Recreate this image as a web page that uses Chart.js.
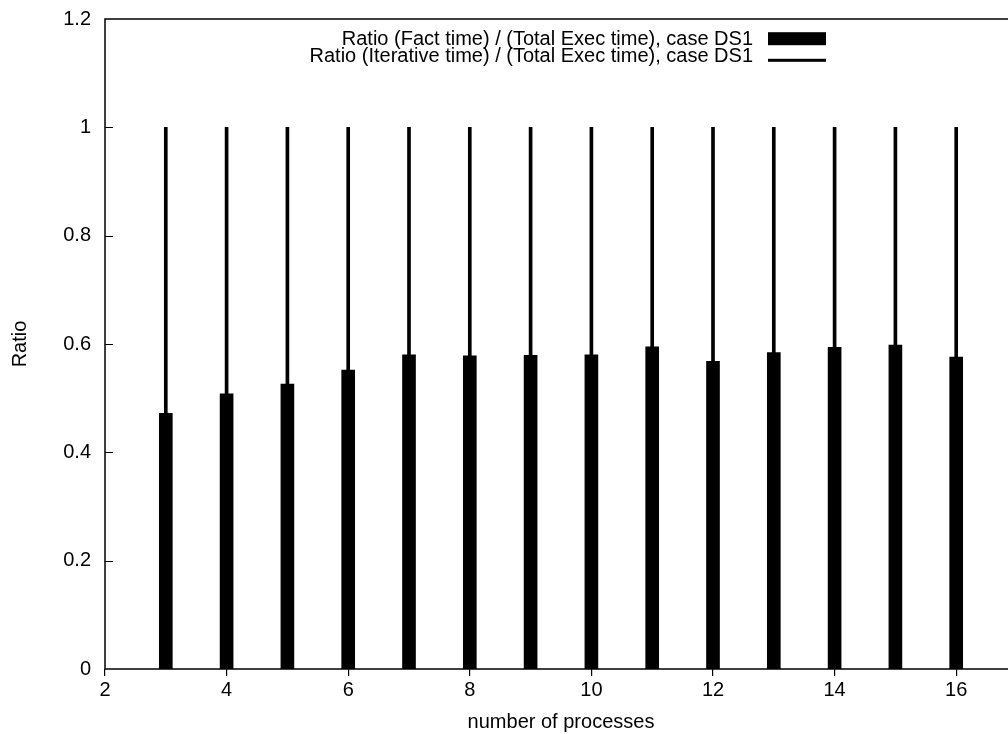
<!DOCTYPE html>
<html>
<head>
<meta charset="utf-8">
<title>Ratio vs number of processes</title>
<script src="https://cdn.jsdelivr.net/npm/chart.js@4.4.1/dist/chart.umd.min.js"></script>
<style>
  html, body { margin: 0; padding: 0; overflow: hidden; background: #fff; }
  #wrap { width: 1040px; height: 734px; }
</style>
</head>
<body>
<div id="wrap"><canvas id="myChart" width="1040" height="734"></canvas></div>
<script>
// number of processes
var procs = [3, 4, 5, 6, 7, 8, 9, 10, 11, 12, 13, 14, 15, 16];
// (Fact time) / (Total Exec time)
var factRatio = [0.472, 0.508, 0.526, 0.552, 0.580, 0.578, 0.579, 0.580, 0.595, 0.568, 0.584, 0.594, 0.598, 0.576];
// (Iterative time) / (Total Exec time)
var iterRatio = [0.528, 0.492, 0.474, 0.448, 0.420, 0.422, 0.421, 0.420, 0.405, 0.432, 0.416, 0.406, 0.402, 0.424];

var xTicks = [2, 4, 6, 8, 10, 12, 14, 16];
var yTicks = [0, 0.2, 0.4, 0.6, 0.8, 1, 1.2];

var FONT = "'Liberation Sans', Arial, Helvetica, sans-serif";
Chart.defaults.font.family = FONT;
Chart.defaults.font.size = 20;
Chart.defaults.color = '#000';

function points(values) {
  var out = [];
  for (var i in procs) {
    out.push({ x: procs[i], y: values[i] });
  }
  return out;
}

// box around the plot plus inward ticks on the y axis
var framePlugin = {
  id: 'frame',
  afterDatasetsDraw: function(chart) {
    var ctx = chart.ctx;
    var a = chart.chartArea;
    var y = chart.scales.y;
    ctx.save();
    ctx.strokeStyle = '#000';
    ctx.lineWidth = 1.5;
    ctx.strokeRect(a.left, a.top, a.right - a.left, a.bottom - a.top);
    ctx.lineWidth = 1.2;
    ctx.beginPath();
    y.ticks.forEach(function(t) {
      if (t.value === 0 || t.value === 1.2) return;
      var py = Math.round(y.getPixelForValue(t.value)) + 0.5;
      ctx.moveTo(a.left, py);
      ctx.lineTo(a.left + 8, py);
    });
    ctx.stroke();
    ctx.restore();
  }
};

// key in the top of the plot: text on the left, sample on the right
var keyPlugin = {
  id: 'key',
  afterDraw: function(chart) {
    var ctx = chart.ctx;
    var rows = [{ base: 45, mid: 38.7 }, { base: 61.7, mid: 60.3 }];
    ctx.save();
    ctx.font = '20px ' + FONT;
    ctx.fillStyle = '#000';
    ctx.textAlign = 'right';
    ctx.textBaseline = 'alphabetic';
    chart.data.datasets.forEach(function(ds, i) {
      ctx.fillText(ds.label, 753, rows[i].base);
      var h = ds.barThickness;
      ctx.fillRect(768, rows[i].mid - h / 2, 58, h);
    });
    ctx.restore();
  }
};

var ctx = document.getElementById('myChart');

var barGraph = new Chart(ctx, {
  type: 'bar',
  data: {
    datasets: [
      {
        label: 'Ratio (Fact time) / (Total Exec time), case DS1',
        data: points(factRatio),
        backgroundColor: '#000',
        borderWidth: 0,
        barThickness: 13,
        stack: 'ds1'
      },
      {
        label: 'Ratio (Iterative time) / (Total Exec time), case DS1',
        data: points(iterRatio),
        backgroundColor: '#000',
        borderWidth: 0,
        barThickness: 3,
        stack: 'ds1'
      }
    ]
  },
  options: {
    responsive: false,
    animation: false,
    devicePixelRatio: 1,
    layout: { padding: { left: 0, top: 19, right: 23, bottom: 0 } },
    plugins: {
      legend: { display: false },
      tooltip: { enabled: false }
    },
    scales: {
      x: {
        type: 'linear',
        min: 2,
        max: 17,
        offset: false,
        stacked: true,
        afterBuildTicks: function(scale) {
          scale.ticks = xTicks.map(function(v) { return { value: v }; });
        },
        afterFit: function(scale) {
          scale.height = 65;
          scale.paddingLeft = 0;
          scale.paddingRight = 0;
        },
        ticks: {
          padding: 2,
          maxRotation: 0,
          autoSkip: false,
          callback: function(v) { return String(v); }
        },
        grid: {
          display: true,
          offset: false,
          drawOnChartArea: false,
          drawTicks: true,
          tickLength: 7,
          color: '#000',
          lineWidth: 1.2
        },
        border: { display: false },
        title: {
          display: true,
          text: 'number of processes',
          padding: { top: 0, bottom: 0 }
        }
      },
      y: {
        type: 'linear',
        min: 0,
        max: 1.2,
        stacked: true,
        afterBuildTicks: function(scale) {
          scale.ticks = yTicks.map(function(v) { return { value: v }; });
        },
        afterFit: function(scale) {
          scale.width = 105;
          scale.paddingTop = 0;
          scale.paddingBottom = 0;
        },
        ticks: {
          padding: 14,
          callback: function(v) { return String(Math.round(v * 10) / 10); }
        },
        grid: { display: false, drawTicks: false },
        border: { display: false },
        title: {
          display: true,
          text: 'Ratio',
          padding: { top: 8, bottom: 0 }
        }
      }
    }
  },
  plugins: [framePlugin, keyPlugin]
});
</script>
</body>
</html>
